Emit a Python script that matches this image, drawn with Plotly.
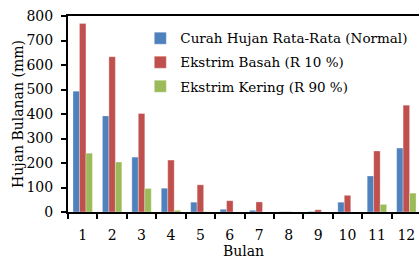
import plotly.graph_objects as go

months = ["1", "2", "3", "4", "5", "6", "7", "8", "9", "10", "11", "12"]
normal = [493, 392, 224, 97, 40, 11, 7, 1, 2, 40, 147, 261]
basah = [769, 634, 402, 212, 111, 46, 41, 1, 9, 68, 249, 436]
kering = [240, 204, 96, 7, 1, 0, 0, 0, 0, 0, 31, 77]

names = ["Curah Hujan Rata-Rata (Normal)", "Ekstrim Basah (R 10 %)", "Ekstrim Kering (R 90 %)"]
colors = ["#4F81BD", "#C0504D", "#9BBB59"]

fig = go.Figure()
for i, (vals, name, col) in enumerate(zip([normal, basah, kering], names, colors)):
    fig.add_trace(go.Bar(x=months, y=vals, name=name, legendgroup=f"g{i}",
                         marker=dict(color=col, line=dict(width=0.6, color="rgba(255,255,255,0.5)"))))

font = "DejaVu Serif"
fig.update_layout(
    width=419, height=259,
    margin=dict(l=68, r=0, t=16, b=47),
    paper_bgcolor="white", plot_bgcolor="white",
    barmode="group", bargap=0.34, bargroupgap=0,
    font=dict(family=font, size=14, color="black"),
    showlegend=True,
    legend=dict(x=0.206, y=0.965, xanchor="left", yanchor="top",
                font=dict(family=font, size=13.5, color="black"),
                traceorder="grouped",
                bgcolor="rgba(0,0,0,0)", tracegroupgap=3.5, itemwidth=30),
    xaxis=dict(type="category", range=[-0.5, 11.43], tickson="boundaries", automargin=False,
               ticks="outside", ticklen=5, tickwidth=1.5, tickcolor="black",
               ticklabelstandoff=9,
               showline=True, linecolor="black", linewidth=2, mirror=True,
               showgrid=False,
               title=dict(text="Bulan", font=dict(family=font, size=14), standoff=0),
               tickfont=dict(family=font, size=14)),
    yaxis=dict(range=[0, 800], dtick=100, ticks="outside", ticklen=5, tickwidth=1.5, automargin=False,
               ticklabelstandoff=5,
               tickcolor="black", showline=True, linecolor="black", linewidth=2,
               showgrid=False, zeroline=False,
               title=dict(text="Hujan Bulanan (mm)", font=dict(family=font, size=14), standoff=0),
               tickfont=dict(family=font, size=14)),
)
fig.write_html("out.html", config={"displayModeBar": False},
               post_script="document.body.style.margin='0';document.body.style.overflow='hidden';")
